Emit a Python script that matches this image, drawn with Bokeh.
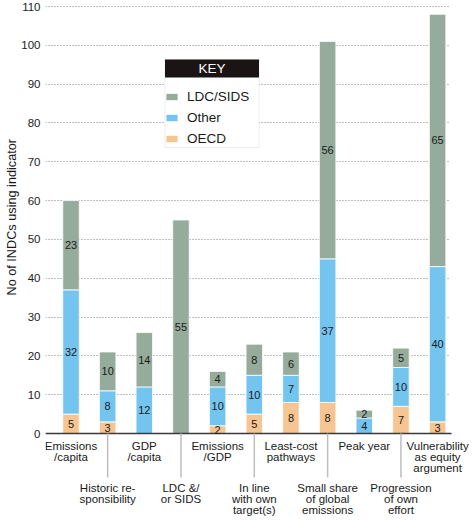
from bokeh.plotting import figure
from bokeh.models import (ColumnDataSource, FixedTicker, Range1d, Legend, LegendItem,
                          BoxAnnotation, Label, Title)
from bokeh.core.properties import value
from bokeh.embed import file_html
from bokeh.resources import INLINE

# ---------------- data ----------------
categories = ["Emissions\n/capita", "Historic re-\nsponsibility", "GDP\n/capita", "LDC &/\nor SIDS",
              "Emissions\n/GDP", "In line\nwith own\ntarget(s)", "Least-cost\npathways",
              "Small share\nof global\nemissions", "Peak year", "Progression\nof own\neffort",
              "Vulnerability\nas equity\nargument"]
oecd = [5, 3, 0, 0, 2, 5, 8, 8, 0, 7, 3]
other = [32, 8, 12, 0, 10, 10, 7, 37, 4, 10, 40]
ldc_sids = [23, 10, 14, 55, 4, 8, 6, 56, 2, 5, 65]
series_names = ["OECD", "Other", "LDC/SIDS"]
y_ticks = list(range(0, 111, 10))

# ---------------- layout constants (pixels) ----------------
W, H = 472, 522
FRAME_L, FRAME_R = 45, 472
AXIS_R = 451
STEP = 36.66
FIRST_PX = 70.5
Y0_PX, Y110_PX = 433.0, 6.0
PPY = (Y0_PX - Y110_PX) / 110.0

x_start = -(FIRST_PX - FRAME_L) / STEP
x_end = x_start + (FRAME_R - FRAME_L) / STEP
y_end = Y0_PX / PPY
y_start = -(H - Y0_PX) / PPY


def dx(px):
    return x_start + (px - FRAME_L) / STEP


def dy(py):
    return (Y0_PX - py) / PPY


FONT = "Liberation Sans"
C_OECD = "#f6c591"
C_OTHER = "#74c4f0"
C_LDC = "#95ab9b"

p = figure(width=W, height=H, x_range=Range1d(x_start, x_end), y_range=Range1d(y_start, y_end),
           output_backend="svg", toolbar_location=None, x_axis_location=None,
           min_border_left=FRAME_L, min_border_right=0, min_border_top=0, min_border_bottom=0)
p.outline_line_color = None
p.background_fill_color = "white"

# y axis
ax = p.yaxis[0]
ax.ticker = FixedTicker(ticks=y_ticks)
ax.axis_line_color = None
ax.major_tick_line_color = None
ax.major_tick_out = 0
ax.major_tick_in = 0
ax.minor_tick_line_color = None
ax.minor_tick_out = 0
ax.major_label_standoff = 5
ax.major_label_text_font = FONT
ax.major_label_text_font_size = "11.5px"
ax.major_label_text_color = "#222222"

p.xgrid.visible = False
p.ygrid.ticker = FixedTicker(ticks=y_ticks[1:])
p.ygrid.grid_line_dash = "1 2"
p.ygrid.grid_line_color = "#808080"
p.ygrid.grid_line_width = 1
# mask the gridlines to the right of the axis end
p.add_layout(BoxAnnotation(left=dx(AXIS_R - 2), level="underlay", fill_color="white",
                           fill_alpha=1, line_color=None))

xs = list(range(len(categories)))
src = ColumnDataSource(dict(x=xs, oecd=oecd, other=other, ldc=ldc_sids))
rs = p.vbar_stack(["oecd", "other", "ldc"], x="x", width=0.45, source=src,
                  fill_color=[C_OECD, C_OTHER, C_LDC], line_color="white", line_width=0.8)

# x axis line
p.segment(x0=[x_start], y0=[0], x1=[dx(AXIS_R)], y1=[0], line_color="#3a3a3a", line_width=1.5)

# value labels
vx, vy, vt = [], [], []
for i in xs:
    base = 0
    for v in (oecd[i], other[i], ldc_sids[i]):
        if v > 0:
            vx.append(i)
            vy.append(base + v / 2)
            vt.append(str(v))
        base += v
p.text(x=vx, y=vy, text=vt, text_align="center", text_baseline="middle",
       text_font=value(FONT), text_font_size="11px", text_color="#1a1a1a")

# category labels
even = [i for i in xs if i % 2 == 0]
odd = [i for i in xs if i % 2 == 1]
p.segment(x0=odd, y0=[0] * len(odd), x1=odd, y1=[dy(477)] * len(odd),
          line_color="#bdbdbd", line_width=1.5)
p.text(x=even, y=[dy(439)] * len(even), text=[categories[i] for i in even],
       text_align="center", text_baseline="top", text_font=value(FONT),
       text_font_size="11.5px", text_line_height=0.95, text_color="#1a1a1a")
p.text(x=odd, y=[dy(481)] * len(odd), text=[categories[i] for i in odd],
       text_align="center", text_baseline="top", text_font=value(FONT),
       text_font_size="11.5px", text_line_height=0.95, text_color="#1a1a1a")

# legend: white box with grey border, black header, then transparent legend on top
LG_L, LG_R, LG_T, LG_B, HD_B = 164.5, 258.5, 59, 147, 77
p.add_layout(BoxAnnotation(left=dx(LG_L), right=dx(LG_R), top=dy(LG_T), bottom=dy(LG_B),
                           fill_color="white", fill_alpha=1, line_color="#c4c4c4", line_width=1))
p.add_layout(BoxAnnotation(left=dx(LG_L), right=dx(LG_R), top=dy(LG_T), bottom=dy(HD_B),
                           fill_color="#1a1414", fill_alpha=1, line_color=None))
p.add_layout(Label(x=dx((LG_L + LG_R) / 2), y=dy((LG_T + HD_B) / 2), text="KEY",
                   text_align="center", text_baseline="middle",
                   text_color="white", text_font=FONT, text_font_size="13.5px"))
legend = Legend(items=[LegendItem(label=series_names[2], renderers=[rs[2]]),
                       LegendItem(label=series_names[1], renderers=[rs[1]]),
                       LegendItem(label=series_names[0], renderers=[rs[0]])],
                location=(164 - FRAME_L, H - 147), margin=0, padding=4, spacing=3,
                label_height=18, glyph_height=9, glyph_width=15, label_standoff=8,
                label_text_font=FONT, label_text_font_size="13.5px", label_text_color="#1a1a1a",
                border_line_color=None, background_fill_alpha=0,
                title="KEY", title_text_font_size="13px", title_text_alpha=0, title_standoff=4)
p.add_layout(legend)

# y axis title
p.add_layout(Title(text="No of INDCs using indicator", align="left", offset=H - 295,
                   text_font=FONT, text_font_size="12.7px", text_font_style="normal",
                   text_color="#1a1a1a", standoff=0), "left")

open("out.html", "w").write(file_html(p, INLINE))
